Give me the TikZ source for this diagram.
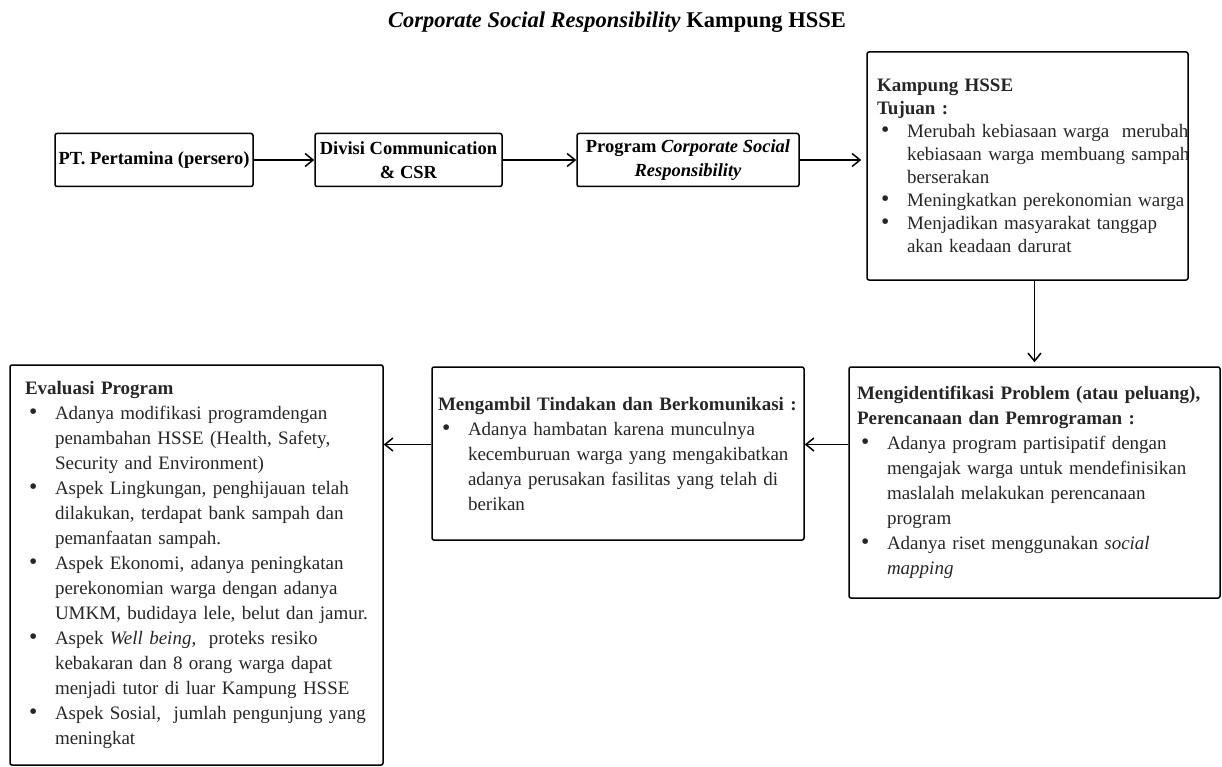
\documentclass[tikz,border=0pt]{standalone}
\usepackage{fontspec}
\setmainfont{Liberation Serif}
\usetikzlibrary{positioning,arrows.meta}

% bullet line and indented continuation line
\newcommand{\bul}[1]{\makebox[30pt][l]{\hspace{4pt}\scalebox{1.25}{\textbullet}}\mbox{#1}}
\newcommand{\ind}[1]{\hspace*{30pt}\mbox{#1}}
\newcommand{\head}[1]{\mbox{\textbf{#1}}}

\begin{document}
\begin{tikzpicture}[
        x                       = 1pt,
        y                       = -1pt,
        box/.style              = {draw, line width=1.5pt, rounded corners=2pt, inner sep=0pt},
        topbox/.style           = {box, align=center, font=\bfseries\fontsize{18.5}{24}\selectfont},
        listbox/.style          = {box, align=left, text=black!85, font=\fontsize{19}{25}\selectfont},
        link/.style             = {draw, line width=1.5pt, -{Straight Barb[length=8pt,width=13pt]}},
      ]
        \useasboundingbox (0,0) rectangle (1222,767);

        \node[anchor=base, font=\bfseries\fontsize{22.5}{26}\selectfont] (title) at (617,28)
            {\textit{Corporate Social Responsibility} Kampung HSSE};

        % top row
        \node[topbox, minimum width=198pt, minimum height=53pt] (pertamina) at (154,160)
            {PT. Pertamina (persero)};
        \node[topbox, minimum width=187pt, minimum height=53pt] (divisi) at (408.5,160)
            {Divisi Communication\\ \& CSR};
        \node[topbox, minimum width=222pt, minimum height=53pt] (program) at (688,160)
            {Program \textit{Corporate Social}\\ \textit{Responsibility}};
        \node[listbox, text width=301pt, inner xsep=10pt, minimum height=228pt,
              font=\fontsize{19}{23}\selectfont] (kampung) at (1027.5,166)
            {\head{Kampung HSSE}\\
             \head{Tujuan :}\\
             \bul{Merubah kebiasaan warga\ \ merubah}\\
             \ind{kebiasaan warga membuang sampah}\\
             \ind{berserakan}\\
             \bul{Meningkatkan perekonomian warga}\\
             \bul{Menjadikan masyarakat tanggap}\\
             \ind{akan keadaan darurat}};

        % bottom row
        \node[listbox, text width=355pt, inner xsep=8pt, minimum height=231pt] (identifikasi) at (1034.5,482.5)
            {\head{Mengidentifikasi Problem (atau peluang),}\\
             \head{Perencanaan dan Pemrograman :}\\
             \bul{Adanya program partisipatif dengan}\\
             \ind{mengajak warga untuk mendefinisikan}\\
             \ind{maslalah melakukan perencanaan}\\
             \ind{program}\\
             \bul{Adanya riset menggunakan \textit{social}}\\
             \ind{\textit{mapping}}};
        \node[listbox, text width=360pt, inner xsep=6pt, minimum height=173pt] (ambil) at (618,453.5)
            {\head{Mengambil Tindakan dan Berkomunikasi :}\\
             \bul{Adanya hambatan karena munculnya}\\
             \ind{kecemburuan warga yang mengakibatkan}\\
             \ind{adanya perusakan fasilitas yang telah di}\\
             \ind{berikan}};
        \node[listbox, text width=343pt, inner xsep=15pt, minimum height=400pt] (evaluasi) at (196.5,565)
            {\head{Evaluasi Program}\\
             \bul{Adanya modifikasi programdengan}\\
             \ind{penambahan HSSE (Health, Safety,}\\
             \ind{Security and Environment)}\\
             \bul{Aspek Lingkungan, penghijauan telah}\\
             \ind{dilakukan, terdapat bank sampah dan}\\
             \ind{pemanfaatan sampah.}\\
             \bul{Aspek Ekonomi, adanya peningkatan}\\
             \ind{perekonomian warga dengan adanya}\\
             \ind{UMKM, budidaya lele, belut dan jamur.}\\
             \bul{Aspek \textit{Well being},\ \ proteks resiko}\\
             \ind{kebakaran dan 8 orang warga dapat}\\
             \ind{menjadi tutor di luar Kampung HSSE}\\
             \bul{Aspek Sosial,\ \ jumlah pengunjung yang}\\
             \ind{meningkat}};

        % connectors
        \draw[link] (pertamina.east) -- (divisi.west);
        \draw[link] (divisi.east) -- (program.west);
        \draw[link] (program.east) -- ([xshift=-5pt]program.east -| kampung.west);
        \draw[link] (kampung.south -| identifikasi.north) -- ([yshift=4pt]identifikasi.north);
        \draw[link] ([yshift=9pt]ambil.east -| identifikasi.west) -- ([yshift=9pt]ambil.east);
        \draw[link] ([yshift=9pt]ambil.west) -- ([yshift=9pt]ambil.west -| evaluasi.east);
\end{tikzpicture}
\end{document}
